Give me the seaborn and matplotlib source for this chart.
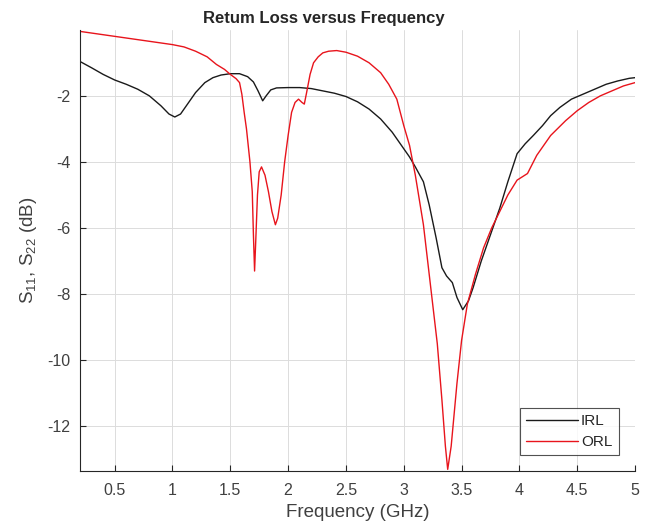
import numpy as np
import pandas as pd
import matplotlib
matplotlib.use("Agg")
import matplotlib.pyplot as plt
import seaborn as sns

# IRL (S11)
irl_freq = [0.2, 0.3, 0.4, 0.5, 0.6, 0.7, 0.8, 0.9, 0.97, 1.02, 1.07, 1.13, 1.2, 1.28, 1.35,
            1.42, 1.5, 1.58, 1.65, 1.7, 1.74, 1.78, 1.81, 1.85, 1.9, 2.0, 2.1, 2.2, 2.3, 2.4,
            2.5, 2.6, 2.7, 2.8, 2.9, 3.0, 3.05, 3.1, 3.17, 3.22, 3.28, 3.33, 3.37, 3.42, 3.46,
            3.51, 3.56, 3.6, 3.67, 3.75, 3.83, 3.9, 3.98, 4.05, 4.12, 4.2, 4.27, 4.35, 4.45,
            4.55, 4.65, 4.75, 4.85, 4.95, 5.0]
irl_db = [-0.96, -1.15, -1.35, -1.52, -1.65, -1.8, -2.0, -2.3, -2.55, -2.64, -2.55, -2.25, -1.9,
          -1.6, -1.45, -1.37, -1.33, -1.33, -1.42, -1.58, -1.85, -2.15, -2.0, -1.82, -1.76,
          -1.75, -1.75, -1.78, -1.85, -1.92, -2.02, -2.18, -2.4, -2.7, -3.1, -3.6, -3.85,
          -4.15, -4.6, -5.3, -6.3, -7.2, -7.45, -7.65, -8.1, -8.47, -8.2, -7.8, -7.0, -6.2,
          -5.4, -4.6, -3.75, -3.45, -3.2, -2.9, -2.6, -2.35, -2.1, -1.95, -1.8, -1.65, -1.55,
          -1.47, -1.45]

# ORL (S22)
orl_freq = [0.2, 0.3, 0.4, 0.5, 0.6, 0.7, 0.8, 0.9, 1.0, 1.1, 1.2, 1.3, 1.38, 1.45, 1.5, 1.55,
            1.58, 1.6, 1.62, 1.64, 1.67, 1.69, 1.7, 1.71, 1.72, 1.735, 1.75, 1.77, 1.8, 1.83,
            1.86, 1.89, 1.91, 1.94, 1.97, 2.0, 2.03, 2.06, 2.09, 2.12, 2.14, 2.16, 2.19, 2.22,
            2.26, 2.3, 2.35, 2.42, 2.5, 2.6, 2.7, 2.8, 2.87, 2.94, 3.0, 3.05, 3.1, 3.17, 3.23,
            3.29, 3.33, 3.36, 3.38, 3.41, 3.46, 3.5, 3.55, 3.62, 3.69, 3.76, 3.83, 3.9, 3.98,
            4.07, 4.15, 4.27, 4.4, 4.5, 4.6, 4.7, 4.8, 4.9, 5.0]
orl_db = [-0.05, -0.1, -0.15, -0.2, -0.25, -0.3, -0.35, -0.4, -0.45, -0.52, -0.65, -0.82,
          -1.05, -1.2, -1.35, -1.48, -1.6, -1.95, -2.5, -3.0, -4.0, -4.9, -6.2, -7.3, -6.4,
          -5.0, -4.3, -4.15, -4.4, -4.9, -5.5, -5.9, -5.7, -5.0, -4.0, -3.2, -2.5, -2.2, -2.1,
          -2.2, -2.25, -1.9, -1.35, -1.0, -0.82, -0.7, -0.65, -0.63, -0.68, -0.8, -1.0, -1.3,
          -1.65, -2.1, -2.9, -3.5, -4.4, -5.9, -7.7, -9.5, -11.2, -12.6, -13.3, -12.6, -10.7,
          -9.4, -8.3, -7.4, -6.6, -6.0, -5.5, -5.0, -4.55, -4.35, -3.8, -3.2, -2.75, -2.45,
          -2.2, -2.0, -1.85, -1.7, -1.6]

x_ticks = [0.5, 1, 1.5, 2, 2.5, 3, 3.5, 4, 4.5, 5]
y_ticks = [-12, -10, -8, -6, -4, -2]

df = pd.concat([
    pd.DataFrame({"freq": irl_freq, "db": irl_db, "curve": "IRL"}),
    pd.DataFrame({"freq": orl_freq, "db": orl_db, "curve": "ORL"}),
])

sns.set_style("whitegrid")
plt.rcParams["font.family"] = ["Liberation Sans", "DejaVu Sans"]
plt.rcParams["mathtext.fontset"] = "custom"
plt.rcParams["mathtext.rm"] = "Liberation Sans"

fig = plt.figure(figsize=(6.5, 5.31), dpi=100)
ax = fig.add_axes([0.123, 0.113, 0.854, 0.831])

sns.lineplot(data=df, x="freq", y="db", hue="curve", palette={"IRL": "#1a1a1a", "ORL": "#e8141c"},
             estimator=None, sort=False, linewidth=1.0, ax=ax)

ax.set_xlim(0.2, 5)
ax.set_ylim(-13.35, 0)
ax.set_xticks(x_ticks)
ax.set_xticklabels([f"{v:g}" for v in x_ticks])
ax.set_yticks(y_ticks)
ax.set_yticklabels([f"{v:g}" for v in y_ticks])
ax.grid(True, color="#dcdcdc", linewidth=0.7)

for s in ["top", "right"]:
    ax.spines[s].set_visible(False)
for s in ["left", "bottom"]:
    ax.spines[s].set_color("#262626")
    ax.spines[s].set_linewidth(0.8)
ax.tick_params(direction="in", length=4, width=0.8, colors="#262626", labelcolor="#404040",
               labelsize=11.5, bottom=True, left=True)
ax.tick_params(axis="x", pad=9)
ax.tick_params(axis="y", pad=7)

ax.set_title("Retum Loss versus Frequency", fontsize=12, fontweight="bold", pad=5, x=0.44,
             family=["Liberation Sans Narrow", "Liberation Sans", "DejaVu Sans"])
ax.set_xlabel("Frequency (GHz)", fontsize=13.5, color="#404040", labelpad=4)
ax.set_ylabel("S$_{11}$, S$_{22}$ (dB)", fontsize=13.5, color="#404040", labelpad=6)

leg = ax.legend(loc="lower right", bbox_to_anchor=(0.984, 0.018), frameon=True, fancybox=False,
                fontsize=11, handlelength=3.4, borderpad=0.4, labelspacing=0.45, handletextpad=0.2)
leg.get_frame().set_edgecolor("#262626")
leg.get_frame().set_linewidth(0.8)

fig.savefig("out.png", dpi=100)
